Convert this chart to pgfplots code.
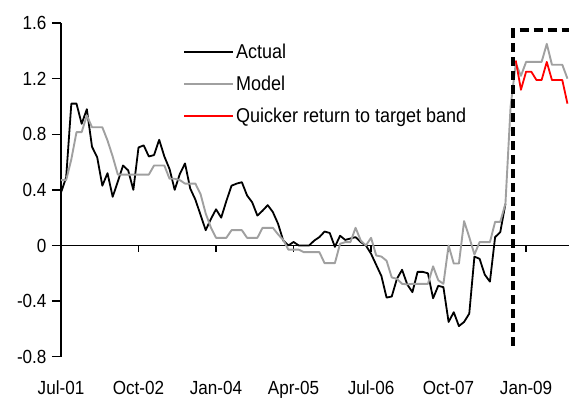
\documentclass[border=0pt]{standalone}
\usepackage{fontspec}
\setmainfont[FakeStretch=0.9]{Liberation Sans}
\usepackage{pgfplots}
\pgfplotsset{compat=1.18}
\definecolor{modelgray}{RGB}{160,160,160}
\definecolor{quickred}{RGB}{255,0,0}

% months counted from Jul-01 = 0
\pgfplotstableread{
m v
0 0.38
1 0.49
2 1.02
3 1.02
4 0.875
5 0.98
6 0.71
7 0.635
8 0.43
9 0.52
10 0.35
11 0.46
12 0.575
13 0.54
14 0.40
15 0.705
16 0.72
17 0.64
18 0.65
19 0.76
20 0.64
21 0.55
22 0.40
23 0.515
24 0.59
25 0.41
26 0.33
27 0.22
28 0.11
29 0.19
30 0.26
31 0.20
32 0.32
33 0.43
34 0.445
35 0.455
36 0.36
37 0.31
38 0.215
39 0.25
40 0.29
41 0.24
42 0.156
43 0.036
44 0.0
45 0.025
46 0.0
47 0.0
48 0.0
49 0.035
50 0.06
51 0.10
52 0.09
53 -0.01
54 0.07
55 0.04
56 0.05
57 0.06
58 0.025
59 0.0
60 -0.06
61 -0.14
62 -0.22
63 -0.375
64 -0.367
65 -0.24
66 -0.175
67 -0.28
68 -0.336
69 -0.19
70 -0.19
71 -0.20
72 -0.38
73 -0.29
74 -0.30
75 -0.55
76 -0.48
77 -0.58
78 -0.55
79 -0.49
80 -0.08
81 -0.096
82 -0.21
83 -0.26
84 0.06
85 0.096
86 0.30
}\actualdata

\pgfplotstableread{
m v
0 0.47
1 0.47
2 0.62
3 0.815
4 0.815
5 0.935
6 0.85
7 0.85
8 0.85
9 0.755
10 0.64
11 0.51
12 0.51
13 0.51
14 0.51
15 0.51
16 0.51
17 0.51
18 0.575
19 0.575
20 0.575
21 0.48
22 0.48
23 0.47
24 0.445
25 0.445
26 0.445
27 0.37
28 0.23
29 0.13
30 0.055
31 0.055
32 0.055
33 0.11
34 0.11
35 0.11
36 0.055
37 0.055
38 0.055
39 0.127
40 0.127
41 0.127
42 0.08
43 0.04
44 -0.03
45 -0.03
46 -0.03
47 -0.048
48 -0.048
49 -0.048
50 -0.048
51 -0.127
52 -0.127
53 -0.127
54 0.012
55 0.024
56 0.024
57 0.127
58 0.036
59 0.0
60 0.055
61 -0.072
62 -0.08
63 -0.11
64 -0.23
65 -0.24
66 -0.276
67 -0.28
68 -0.276
69 -0.276
70 -0.276
71 -0.276
72 -0.15
73 -0.25
74 -0.276
75 0.0
76 -0.13
77 -0.13
78 0.175
79 0.06
80 -0.065
81 0.024
82 0.024
83 0.024
84 0.17
85 0.17
86 0.30
87 1.0
88 1.31
89 1.22
90 1.32
91 1.32
92 1.32
93 1.32
94 1.45
95 1.30
96 1.30
97 1.30
98 1.20
}\modeldata

\pgfplotstableread{
m v
88 1.33
89 1.12
90 1.25
91 1.25
92 1.19
93 1.19
94 1.32
95 1.19
96 1.19
97 1.19
98 1.02
}\quickdata

\begin{document}
\begin{tikzpicture}
\useasboundingbox (-61bp,-48.3bp) rectangle (508bp,356.7bp);
\begin{axis}[
    at={(0,0)}, anchor=south west,
    scale only axis,
    width=508bp, height=333.7bp,
    xmin=0, xmax=98.3,
    ymin=-0.8, ymax=1.6,
    axis y line*=left,
    axis x line*=bottom,
    x axis line style={draw=none},
    y axis line style={line width=1.6bp},
    xtick={0,15,30,45,60,75,90},
    xticklabels={Jul-01,Oct-02,Jan-04,Apr-05,Jul-06,Oct-07,Jan-09},
    xtick style={draw=none},
    ytick={-0.8,-0.4,0,0.4,0.8,1.2,1.6},
    yticklabels={-0.8,-0.4,0,0.4,0.8,1.2,1.6},
    ytick style={line width=1.4bp, black},
    tick align=outside,
    major tick length=9bp,
    ticklabel style={font=\fontsize{19bp}{22bp}\selectfont},
    xticklabel style={yshift=-12bp},
    yticklabel style={xshift=-2bp},
    legend style={
        at={(rel axis cs:0.240,0.943)},
        anchor=north west,
        draw=none, fill=none,
        font=\fontsize{20bp}{22bp}\selectfont,
        row sep=12bp,
        inner sep=0pt,
        nodes={inner sep=2bp},
    },
    legend image code/.code={\draw[#1] (0bp,0bp) -- (49bp,0bp);},
    legend cell align=left,
    clip=false,
]

% zero line with its small ticks
\draw[line width=1.3bp] (axis cs:0,0) -- (axis cs:98.3,0);
\draw[line width=1.3bp] (axis cs:0,0) -- ([yshift=-7bp]axis cs:0,0);
\draw[line width=1.3bp] (axis cs:15,0) -- ([yshift=-7bp]axis cs:15,0);
\draw[line width=1.3bp] (axis cs:30,0) -- ([yshift=-7bp]axis cs:30,0);
\draw[line width=1.3bp] (axis cs:45,0) -- ([yshift=-7bp]axis cs:45,0);
\draw[line width=1.3bp] (axis cs:60,0) -- ([yshift=-7bp]axis cs:60,0);
\draw[line width=1.3bp] (axis cs:75,0) -- ([yshift=-7bp]axis cs:75,0);
\draw[line width=1.3bp] (axis cs:90,0) -- ([yshift=-7bp]axis cs:90,0);

\addplot[black, line width=1.8bp, line join=round] table[x=m, y=v] {\actualdata};
\addlegendentry{Actual}

\addplot[modelgray, line width=1.9bp, line join=round] table[x=m, y=v] {\modeldata};
\addlegendentry{Model}

\addplot[quickred, line width=1.8bp, line join=round] table[x=m, y=v] {\quickdata};
\addlegendentry{Quicker return to target band}

% target band marker
\addplot[black, line width=3.6bp, dash pattern=on 9bp off 5bp, forget plot] coordinates {
    (87.5,-0.72) (87.5,1.55) (98.3,1.55)
};

\end{axis}
\end{tikzpicture}
\end{document}
